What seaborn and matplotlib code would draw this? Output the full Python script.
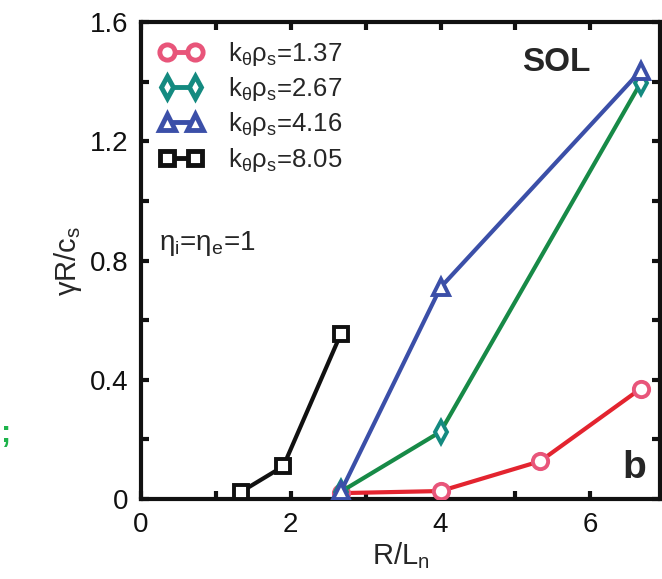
import matplotlib
matplotlib.use("Agg")
import matplotlib.pyplot as plt
import seaborn as sns
import pandas as pd
from matplotlib.lines import Line2D

sns.set_theme(style="white")
plt.rcParams["font.family"] = ["Liberation Sans", "DejaVu Sans"]
plt.rcParams["mathtext.fontset"] = "custom"
plt.rcParams["mathtext.rm"] = "Liberation Sans"
plt.rcParams["mathtext.it"] = "Liberation Sans"
plt.rcParams["mathtext.bf"] = "Liberation Sans:bold"

# growth rate vs. density gradient, SOL case
rln_137 = [2.67, 4.0, 5.33, 6.67]
gam_137 = [0.02, 0.027, 0.127, 0.37]
rln_267 = [2.67, 4.0, 6.67]
gam_267 = [0.025, 0.226, 1.395]
rln_416 = [2.67, 4.0, 6.67]
gam_416 = [0.026, 0.71, 1.436]
rln_805 = [1.34, 1.90, 2.67]
gam_805 = [0.025, 0.11, 0.555]
labels = ["1.37", "2.67", "4.16", "8.05"]

fig = plt.figure(figsize=(6.62, 5.79), dpi=100)
ax = fig.add_axes([0.213, 0.138, 0.784, 0.824])

series = [
    (rln_137, gam_137, labels[0], "o", "#e3242f", "#e8557a", 11),
    (rln_267, gam_267, labels[1], "d", "#178a47", "#148a80", 11),
    (rln_416, gam_416, labels[2], "^", "#3b4fa8", "#3b4fa8", 12),
    (rln_805, gam_805, labels[3], "s", "#111111", "#111111", 10),
]
for i in [0, 2, 1, 3]:
    xs, ys, lab, mk, lc, mc, ms = series[i]
    df = pd.DataFrame({"x": xs, "y": ys})
    sns.lineplot(data=df, x="x", y="y", ax=ax, color=lc, lw=3,
                 marker=mk, markersize=ms, markerfacecolor="white",
                 markeredgecolor=mc, markeredgewidth=2.8, zorder=3 + i)

# legend handles: marker pair joined by a line in marker colour
leg_h = []
for i in range(4):
    xs, ys, lab, mk, lc, mc, ms = series[i]
    leg_h.append(Line2D([], [], color=mc, lw=3.5, marker=mk, markersize=ms,
                        markerfacecolor="white", markeredgecolor=mc,
                        markeredgewidth=3.5))
leg_l = [r"$\mathregular{k_{\theta}\rho_s}$=" + l for l in labels]
ax.legend(leg_h, leg_l, loc="upper left", frameon=False, numpoints=2,
          fontsize=18.5, handlelength=1.7, handletextpad=1.0,
          labelspacing=0.28, borderaxespad=0.15, borderpad=0.55)

ax.set_xlim(0, 6.93)
ax.set_ylim(0, 1.6)
ax.set_xticks([0, 1, 2, 3, 4, 5, 6])
ax.set_xticklabels(["0", "", "2", "", "4", "", "6"])
ax.set_yticks([0, 0.2, 0.4, 0.6, 0.8, 1.0, 1.2, 1.4, 1.6])
ax.set_yticklabels(["0", "", "0.4", "", "0.8", "", "1.2", "", "1.6"])
ax.tick_params(direction="in", length=6, width=3, labelsize=20, pad=9,
               top=True, right=True, bottom=True, left=True,
               colors="#111111")
for s in ax.spines.values():
    s.set_linewidth(3)
    s.set_color("#111111")

ax.set_xlabel(r"$\mathregular{R/L_n}$", fontsize=21, labelpad=2)
ax.set_ylabel(r"$\mathregular{\gamma R/c_s}$", fontsize=21, labelpad=4)

ax.text(0.035, 0.535, r"$\mathregular{\eta_i}$=$\mathregular{\eta_e}$=1",
        transform=ax.transAxes, fontsize=20, va="center", ha="left")
ax.text(0.80, 0.915, "SOL", transform=ax.transAxes, fontsize=24,
        fontweight="bold", ha="center", va="center")
ax.text(0.95, 0.065, "b", transform=ax.transAxes, fontsize=28,
        fontweight="bold", ha="center", va="center")

fig.text(0.0, 0.25, ";", color="#1db34a", fontsize=22, fontweight="bold",
         ha="left", va="center")

fig.savefig("out.png", dpi=100)
